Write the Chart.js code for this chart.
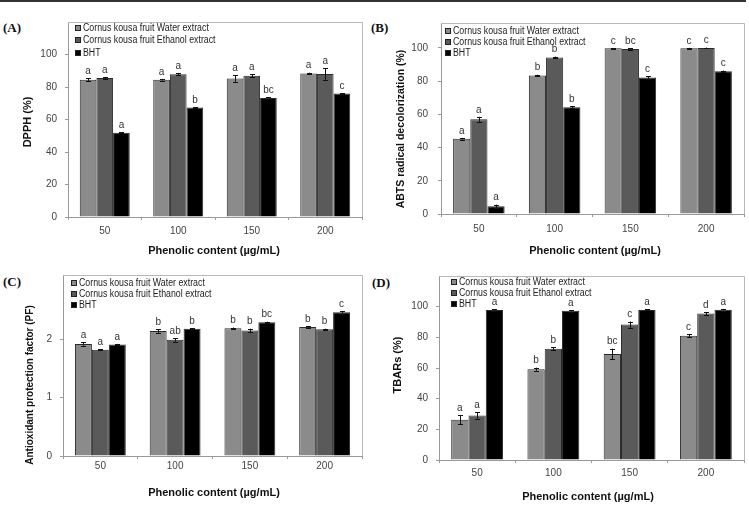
<!DOCTYPE html>
<html>
<head>
<meta charset="utf-8">
<script src="https://cdn.jsdelivr.net/npm/chart.js@4.4.1/dist/chart.umd.min.js"></script>
<style>
  body { margin: 0; background: #fff; width: 749px; height: 505px; overflow: hidden; position: relative; }
  canvas { position: absolute; left: 0; top: 0; }
  .topline { position: absolute; left: 0; top: 0; width: 746px; height: 2px; background: #333; }
  .lbl { position: absolute; font: bold 13px "Liberation Serif", "Times New Roman", serif; color: #111; line-height: 15px; }
</style>
</head>
<body>
<div class="topline"></div>
<div class="lbl" style="left:3px;top:20px">(A)</div>
<div class="lbl" style="left:371px;top:20px">(B)</div>
<div class="lbl" style="left:3px;top:274px">(C)</div>
<div class="lbl" style="left:372px;top:275px">(D)</div>
<canvas id="cA" width="749" height="505"></canvas>
<canvas id="cB" width="749" height="505"></canvas>
<canvas id="cC" width="749" height="505"></canvas>
<canvas id="cD" width="749" height="505"></canvas>
<script>
// categories and series
const doses = ["50", "100", "150", "200"];
const seriesNames = ["Cornus kousa fruit Water extract", "Cornus kousa fruit Ethanol extract", "BHT"];
const seriesColors = ["#8b8b8b", "#5a5a5a", "#000000"];

// (A) DPPH
const dpphWater = [84.5, 84.5, 85.2, 88.3];
const dpphEthanol = [85.6, 87.8, 87.0, 88.0];
const dpphBHT = [51.8, 67.4, 73.3, 76.0];
const dpphSd = [[0.8, 0.5, 2.0, 0.5], [0.6, 0.6, 0.8, 3.5], [0.3, 0.2, 0.4, 0.3]];
const dpphSig = [["a", "a", "a", "a"], ["a", "a", "a", "a"], ["a", "b", "bc", "c"]];

// (B) ABTS
const abtsWater = [45.3, 83.4, 99.8, 99.8];
const abtsEthanol = [57.0, 94.3, 99.4, 100];
const abtsBHT = [4.6, 64.3, 82.2, 86.0];
const abtsSd = [[0.5, 0.5, 0.2, 0.2], [1.5, 0.5, 0.5, 0.2], [1.0, 0.5, 0.8, 0.4]];
const abtsSig = [["a", "b", "c", "c"], ["a", "b", "bc", "c"], ["a", "b", "c", "c"]];

// (C) protection factor
const pfWater = [1.92, 2.14, 2.19, 2.21];
const pfEthanol = [1.82, 1.99, 2.15, 2.17];
const pfBHT = [1.91, 2.18, 2.29, 2.46];
const pfSd = [[0.03, 0.03, 0.01, 0.01], [0.01, 0.03, 0.03, 0.01], [0.01, 0.01, 0.01, 0.02]];
const pfSig = [["a", "b", "b", "b"], ["a", "ab", "b", "b"], ["a", "b", "bc", "c"]];

// (D) TBARs
const tbarsWater = [26.3, 59.2, 69.1, 81.0];
const tbarsEthanol = [29.0, 72.6, 88.3, 95.5];
const tbarsBHT = [97.8, 97.3, 97.9, 98.0];
const tbarsSd = [[3.0, 1.0, 3.5, 1.0], [2.0, 1.0, 2.0, 1.0], [0.5, 0.5, 0.3, 0.5]];
const tbarsSig = [["a", "b", "bc", "c"], ["a", "b", "c", "d"], ["a", "a", "a", "a"]];

Chart.defaults.font.family = '"Liberation Sans", Arial, sans-serif';
Chart.defaults.font.size = 10;
Chart.defaults.color = "#444";

// error bars, letters, legend, titles and the top/right frame
const extras = {
  id: "extras",
  afterDatasetsDraw(chart, args, o) {
    const ctx = chart.ctx;
    const y = chart.scales.y;
    const a = chart.chartArea;
    ctx.save();

    ctx.strokeStyle = "#b8b8b8";
    ctx.lineWidth = 1;
    ctx.beginPath();
    ctx.moveTo(a.left, Math.round(a.top) + 0.5);
    ctx.lineTo(Math.round(a.right) + 0.5, Math.round(a.top) + 0.5);
    ctx.lineTo(Math.round(a.right) + 0.5, a.bottom);
    ctx.stroke();

    chart.data.datasets.forEach((ds, di) => {
      chart.getDatasetMeta(di).data.forEach((bar, i) => {
        const v = ds.data[i];
        const e = o.sd[di][i];
        const x = Math.round(bar.x) + 0.5;
        const yt = y.getPixelForValue(v + e);
        const yb = y.getPixelForValue(v - e);
        ctx.strokeStyle = "#111";
        ctx.beginPath();
        ctx.moveTo(x, yt); ctx.lineTo(x, yb);
        ctx.moveTo(x - 2.5, Math.round(yt) + 0.5); ctx.lineTo(x + 2.5, Math.round(yt) + 0.5);
        ctx.moveTo(x - 2.5, Math.round(yb) + 0.5); ctx.lineTo(x + 2.5, Math.round(yb) + 0.5);
        ctx.stroke();
        ctx.fillStyle = "#333";
        ctx.font = '10px "Liberation Sans", Arial, sans-serif';
        ctx.textAlign = "center";
        ctx.textBaseline = "bottom";
        ctx.fillText(o.sig[di][i], bar.x, Math.min(yt, bar.y) - 2);
      });
    });

    // legend inside the plot (text squeezed a little, the original uses a narrow face)
    const L = o.legend;
    ctx.font = '10px "Liberation Sans", Arial, sans-serif';
    ctx.textAlign = "left";
    ctx.textBaseline = "middle";
    chart.data.datasets.forEach((ds, di) => {
      const cy = Math.round(a.top + L.y0 + di * L.dy);
      ctx.fillStyle = ds.backgroundColor;
      ctx.fillRect(a.left + L.bx, cy - 3, 6, 6);
      ctx.strokeStyle = "#222";
      ctx.strokeRect(a.left + L.bx + 0.5, cy - 2.5, 5, 5);
      ctx.fillStyle = "#222";
      const w = ctx.measureText(ds.label).width;
      ctx.fillText(ds.label, a.left + L.tx, cy, w * 0.88);
    });

    // axis titles
    ctx.fillStyle = "#111";
    ctx.textAlign = "center";
    ctx.textBaseline = "middle";
    ctx.font = 'bold ' + o.xTitle.size + 'px "Liberation Sans", Arial, sans-serif';
    ctx.fillText(o.xTitle.text, o.xTitle.x, o.xTitle.y);
    ctx.save();
    ctx.translate(o.yTitle.x, o.yTitle.y);
    ctx.rotate(-Math.PI / 2);
    ctx.font = 'bold ' + o.yTitle.size + 'px "Liberation Sans", Arial, sans-serif';
    ctx.fillText(o.yTitle.text, 0, 0);
    ctx.restore();

    ctx.restore();
  }
};

function makePanel(id, p) {
  new Chart(document.getElementById(id), {
    type: "bar",
    data: {
      labels: doses,
      datasets: p.values.map((vals, k) => ({
        label: seriesNames[k],
        data: vals,
        backgroundColor: seriesColors[k],
        borderColor: "#2a2a2a",
        borderWidth: 1,
        barPercentage: 1,
        categoryPercentage: 0.68
      }))
    },
    options: {
      responsive: false,
      animation: false,
      layout: { padding: p.pad },
      plugins: {
        legend: { display: false },
        tooltip: { enabled: false },
        extras: { sd: p.sd, sig: p.sig, legend: p.legend, xTitle: p.xTitle, yTitle: p.yTitle }
      },
      scales: {
        x: {
          grid: { drawOnChartArea: false, tickLength: 3, color: "#999", offset: true },
          border: { color: "#999" },
          ticks: { padding: p.xPad, color: "#444" },
          afterFit: s => { s.height = 30; }
        },
        y: {
          min: 0,
          max: p.max,
          ticks: {
            stepSize: p.step,
            padding: p.yPad,
            color: "#444",
            callback: v => (v > p.top ? "" : String(v))
          },
          grid: {
            drawOnChartArea: false,
            tickLength: 3,
            color: c => (c.tick && c.tick.value > p.top ? "rgba(0,0,0,0)" : "#999")
          },
          border: { color: "#999" },
          afterFit: s => { s.width = 30; }
        }
      }
    },
    plugins: [extras]
  });
}

const xTitleText = "Phenolic content (\u00b5g/mL)";

makePanel("cA", {
  values: [dpphWater, dpphEthanol, dpphBHT], sd: dpphSd, sig: dpphSig,
  max: 120, top: 100, step: 20,
  pad: { left: 38, right: 387, top: 22, bottom: 258 },
  xPad: 5, yPad: 8,
  legend: { y0: 5.5, dy: 12.5, bx: 7, tx: 15 },
  xTitle: { text: xTitleText, x: 214, y: 251, size: 11 },
  yTitle: { text: "DPPH (%)", x: 28, y: 122, size: 11 }
});

makePanel("cB", {
  values: [abtsWater, abtsEthanol, abtsBHT], sd: abtsSd, sig: abtsSig,
  max: 115, top: 100, step: 20,
  pad: { left: 411, right: 5, top: 23, bottom: 261 },
  xPad: 6, yPad: 10,
  legend: { y0: 7.5, dy: 11.2, bx: 4, tx: 12 },
  xTitle: { text: xTitleText, x: 595, y: 251, size: 11 },
  yTitle: { text: "ABTS radical decolorization (%)", x: 401, y: 129, size: 10.5 }
});

makePanel("cC", {
  values: [pfWater, pfEthanol, pfBHT], sd: pfSd, sig: pfSig,
  max: 3.1, top: 3, step: 1,
  pad: { left: 33, right: 387, top: 275, bottom: 19 },
  xPad: 1, yPad: 8,
  legend: { y0: 8, dy: 11, bx: 8, tx: 16 },
  xTitle: { text: xTitleText, x: 214, y: 493, size: 11 },
  yTitle: { text: "Antioxidant protection factor (PF)", x: 30, y: 385, size: 10 }
});

makePanel("cD", {
  values: [tbarsWater, tbarsEthanol, tbarsBHT], sd: tbarsSd, sig: tbarsSig,
  max: 120, top: 100, step: 20,
  pad: { left: 409, right: 5, top: 276, bottom: 15 },
  xPad: 4, yPad: 8,
  legend: { y0: 6, dy: 10.8, bx: 12, tx: 20 },
  xTitle: { text: xTitleText, x: 588, y: 497, size: 11 },
  yTitle: { text: "TBARs (%)", x: 398, y: 365, size: 11 }
});
</script>
</body>
</html>
